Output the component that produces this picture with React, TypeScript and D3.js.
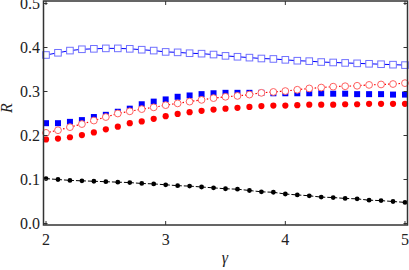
import React, { useEffect, useRef } from 'react';
import * as d3 from 'd3';

const gamma = [2.0, 2.1, 2.2, 2.3, 2.4, 2.5, 2.6, 2.7, 2.8, 2.9, 3.0, 3.1, 3.2, 3.3, 3.4, 3.5,
  3.6, 3.7, 3.8, 3.9, 4.0, 4.1, 4.2, 4.3, 4.4, 4.5, 4.6, 4.7, 4.8, 4.9, 5.0];

const blueOpen = [0.383, 0.388, 0.393, 0.396, 0.397, 0.398, 0.398, 0.397, 0.395, 0.393, 0.390,
  0.389, 0.387, 0.386, 0.384, 0.381, 0.379, 0.377, 0.375, 0.374, 0.372, 0.370, 0.369, 0.367,
  0.366, 0.365, 0.364, 0.363, 0.362, 0.361, 0.360];

const blueFilled = [0.228, 0.228, 0.231, 0.235, 0.242, 0.247, 0.254, 0.261, 0.271, 0.277, 0.282,
  0.288, 0.291, 0.294, 0.296, 0.297, 0.297, 0.297, 0.297, 0.296, 0.296, 0.296, 0.296, 0.296,
  0.295, 0.295, 0.294, 0.294, 0.294, 0.293, 0.293];

const redOpen = [0.206, 0.212, 0.219, 0.226, 0.234, 0.242, 0.250, 0.255, 0.260, 0.264, 0.269,
  0.273, 0.277, 0.281, 0.285, 0.288, 0.290, 0.293, 0.297, 0.299, 0.301, 0.304, 0.307, 0.309,
  0.311, 0.312, 0.313, 0.315, 0.316, 0.317, 0.319];

const redFilled = [0.191, 0.193, 0.196, 0.201, 0.207, 0.214, 0.220, 0.228, 0.232, 0.238, 0.244,
  0.249, 0.253, 0.256, 0.259, 0.261, 0.263, 0.265, 0.267, 0.268, 0.268, 0.269, 0.270, 0.270,
  0.270, 0.271, 0.271, 0.272, 0.272, 0.272, 0.272];

const black = [0.102, 0.100, 0.098, 0.097, 0.096, 0.095, 0.094, 0.093, 0.091, 0.090, 0.088,
  0.086, 0.085, 0.083, 0.081, 0.079, 0.078, 0.075, 0.072, 0.071, 0.067, 0.065, 0.063, 0.060,
  0.059, 0.057, 0.056, 0.053, 0.052, 0.050, 0.048];

const xTicks = [2, 3, 4, 5];
const yTicks = [0.0, 0.1, 0.2, 0.3, 0.4, 0.5];

const width = 409;
const height = 270;

export default function App() {
  const svgRef = useRef<SVGSVGElement>(null);

  useEffect(() => {
    if (!svgRef.current) return;
    document.body.style.margin = '0';

    const svg = d3.select(svgRef.current);
    svg.selectAll('*').remove();

    const left = 43.5, right = 407.5, top = 1, bottom = 225;

    const x = d3.scaleLinear().domain([1.979, 5.021]).range([left, right]);
    const y = d3.scaleLinear().domain([-0.0034, 0.5057]).range([bottom, top]);

    const font = "'Liberation Serif', 'DejaVu Serif', serif";
    const frameColor = '#333';

    // series
    const pts = (vals: number[]) => gamma.map((g, i) => [g, vals[i]] as [number, number]);
    const line = d3.line<[number, number]>().x(d => x(d[0])).y(d => y(d[1]));

    const plot = svg.append('g');

    // blue open squares, solid line
    plot.append('path')
      .attr('d', line(pts(blueOpen)))
      .attr('fill', 'none')
      .attr('stroke', '#0000ff')
      .attr('stroke-width', 1);
    plot.selectAll('.bo')
      .data(pts(blueOpen))
      .enter()
      .append('rect')
      .attr('x', d => x(d[0]) - 3.3)
      .attr('y', d => y(d[1]) - 3.3)
      .attr('width', 6.6)
      .attr('height', 6.6)
      .attr('fill', 'white')
      .attr('stroke', '#7070ff')
      .attr('stroke-width', 1);

    // black dashed with dots
    plot.append('path')
      .attr('d', line(pts(black)))
      .attr('fill', 'none')
      .attr('stroke', '#000')
      .attr('stroke-width', 1)
      .attr('stroke-dasharray', '4,2');
    plot.selectAll('.bk')
      .data(pts(black))
      .enter()
      .append('circle')
      .attr('cx', d => x(d[0]))
      .attr('cy', d => y(d[1]))
      .attr('r', 2.4)
      .attr('fill', '#000');

    // blue filled squares
    plot.selectAll('.bf')
      .data(pts(blueFilled))
      .enter()
      .append('rect')
      .attr('x', d => x(d[0]) - 3)
      .attr('y', d => y(d[1]) - 3)
      .attr('width', 6)
      .attr('height', 6)
      .attr('fill', '#0000ff');

    // red filled circles
    plot.selectAll('.rf')
      .data(pts(redFilled))
      .enter()
      .append('circle')
      .attr('cx', d => x(d[0]))
      .attr('cy', d => y(d[1]))
      .attr('r', 3.1)
      .attr('fill', '#ff0000');

    // red open circles, dotted line
    plot.append('path')
      .attr('d', line(pts(redOpen)))
      .attr('fill', 'none')
      .attr('stroke', '#ff0000')
      .attr('stroke-width', 1.2)
      .attr('stroke-dasharray', '1.5,2');
    plot.selectAll('.ro')
      .data(pts(redOpen))
      .enter()
      .append('circle')
      .attr('cx', d => x(d[0]))
      .attr('cy', d => y(d[1]))
      .attr('r', 3.4)
      .attr('fill', 'white')
      .attr('stroke', '#ff6060')
      .attr('stroke-width', 1);

    // frame
    svg.append('rect')
      .attr('x', left)
      .attr('y', top)
      .attr('width', right - left)
      .attr('height', bottom - top)
      .attr('fill', 'none')
      .attr('stroke', frameColor)
      .attr('stroke-width', 1.5);

    const tickLen = 4;
    const labels = svg.append('g').style('font-family', font).style('font-size', '16px').attr('fill', '#222');

    xTicks.forEach(t => {
      svg.append('line')
        .attr('x1', x(t)).attr('x2', x(t))
        .attr('y1', bottom).attr('y2', bottom - tickLen)
        .attr('stroke', frameColor).attr('stroke-width', 1);
      svg.append('line')
        .attr('x1', x(t)).attr('x2', x(t))
        .attr('y1', top).attr('y2', top + tickLen)
        .attr('stroke', frameColor).attr('stroke-width', 1);
      labels.append('text')
        .attr('x', x(t))
        .attr('y', 245)
        .attr('text-anchor', 'middle')
        .text(String(t));
    });

    yTicks.forEach(t => {
      svg.append('line')
        .attr('x1', left).attr('x2', left + tickLen)
        .attr('y1', y(t)).attr('y2', y(t))
        .attr('stroke', frameColor).attr('stroke-width', 1);
      svg.append('line')
        .attr('x1', right).attr('x2', right - tickLen)
        .attr('y1', y(t)).attr('y2', y(t))
        .attr('stroke', frameColor).attr('stroke-width', 1);
      labels.append('text')
        .attr('x', 40)
        .attr('y', y(t) + 5.5)
        .attr('text-anchor', 'end')
        .text(d3.format('.1f')(t));
    });

    // axis labels
    labels.append('text')
      .attr('x', 225)
      .attr('y', 263)
      .attr('text-anchor', 'middle')
      .style('font-style', 'italic')
      .text('γ');

    labels.append('text')
      .attr('transform', 'translate(12,108) rotate(-90)')
      .attr('text-anchor', 'middle')
      .style('font-style', 'italic')
      .text('R');
  }, []);

  return <svg ref={svgRef} width={width} height={height} style={{ display: 'block' }} />;
}
